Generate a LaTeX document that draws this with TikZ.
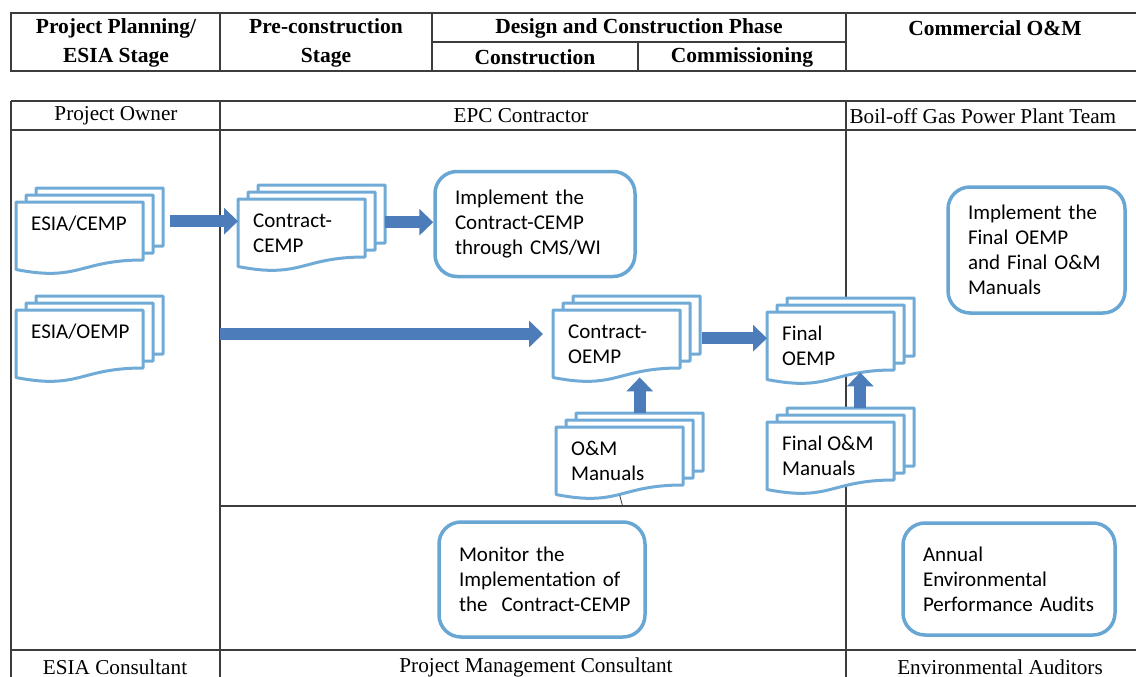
\documentclass[tikz,border=0pt]{standalone}
\usepackage{fontspec}
\setmainfont{Liberation Serif}
\newfontfamily\docfont{Carlito}
\usetikzlibrary{calc,arrows.meta}

\definecolor{docblue}{RGB}{112,170,214}
\definecolor{boxblue}{RGB}{104,166,212}
\definecolor{arrowblue}{RGB}{76,125,186}
\definecolor{gridgray}{RGB}{60,60,60}

\tikzset{
  laneline/.style={draw=gridgray, line width=1.3pt},
  headline/.style={draw=gridgray, line width=2pt},
  headtext/.style={font=\fontsize{21.5}{29}\selectfont\bfseries, align=center},
  lanetext/.style={font=\fontsize{21.2}{24}\selectfont},
  docpage/.style={draw=docblue, line width=3pt, fill=white, line join=round},
  doc/.style={inner sep=0pt, anchor=north west, font=\docfont\fontsize{21}{25}\selectfont},
  task/.style={draw=boxblue, line width=3.5pt, rounded corners=22pt, fill=white,
    inner xsep=20pt, align=left, font=\docfont\fontsize{21}{25}\selectfont},
  bigarrow/.style={draw=arrowblue, line width=12pt, -{Triangle[width=26pt,length=14pt]}},
}

% stack of three pages with a wavy bottom, front page is the node
\newcommand{\docstack}[3]{%
  \foreach \k in {2,1,0}
    \draw[docpage] ($(#2)+(10*\k,-7*\k)$) -- ++(127,0) -- ++(0,58)
      .. controls +(-63.5,0) and +(63.5,12.5) .. ++(-127,9.5) -- cycle;
  \node[doc] (#1) at (#2) {\parbox[t][72pt][t]{127pt}{\raggedright\leftskip=15pt\rule{0pt}{28pt}#3}};
}

\begin{document}
\begin{tikzpicture}[x=1pt, y=-1pt]
    \useasboundingbox (0,0) rectangle (1136,677);
    \clip (0,0) rectangle (1136,677);
    % Stage header
    \draw[headline] (11,13) rectangle (1140,71);
    \draw[headline] (220,13) -- (220,71) (432,13) -- (432,71) (846,13) -- (846,71);
    \draw[headline] (432,42) -- (846,42) (638,42) -- (638,71);
    \node[headtext] (hplan) at (116,43) {Project Planning/\\ESIA Stage};
    \node[headtext] (hpre) at (326,43) {Pre-construction\\Stage};
    \node[headtext] (hdesign) at (639,28) {Design and Construction Phase};
    \node[headtext] (hconstr) at (535,57) {Construction};
    \node[headtext] (hcomm) at (742,57) {Commissioning};
    \node[headtext] (hom) at (995,28) {Commercial O\&M};
    % Lanes
    \draw[laneline] (11,101) -- (1140,101) (11,130) -- (1140,130)
        (11,101) -- (11,680) (220,101) -- (220,680) (846,101) -- (846,680)
        (220,506) -- (1140,506) (11,650) -- (1140,650);
    \node[lanetext] (owner) at (116,116) {Project Owner};
    \node[lanetext] (epc) at (521,116) {EPC Contractor};
    \node[lanetext, anchor=west] (boil) at (846,116) {Boil-off Gas Power Plant Team};
    \node[lanetext] (esiacons) at (115,667) {ESIA Consultant};
    \node[lanetext] (pmc) at (536,667) {Project Management Consultant};
    \node[lanetext] (auditors) at (1000,667) {Environmental Auditors};
    % Documents
    \docstack{esiacemp}{16,202}{ESIA/CEMP}
    \docstack{esiaoemp}{16,310}{ESIA/OEMP}
    \docstack{ccemp}{238,199}{Contract-\\CEMP}
    \docstack{coemp}{553,310}{Contract-\\OEMP}
    \docstack{foemp}{767,312}{Final\\OEMP}
    \docstack{omman}{556,427}{O\&M\\Manuals}
    \docstack{fomman}{767,422}{Final O\&M\\Manuals}
    % Tasks
    \node[task, text width=160pt, minimum height=105pt] (implcemp) at (535,224)
        {Implement the\\Contract-CEMP\\through CMS/WI};
    \node[task, text width=137pt, minimum height=126pt] (imploemp) at (1036.5,250)
        {Implement the\\Final OEMP\\and Final O\&M\\Manuals};
    \node[task, text width=166pt, minimum height=115pt] (monitor) at (542,579.5)
        {Monitor the\\Implementation of\\\mbox{the~ Contract-CEMP}};
    \node[task, text width=172pt, minimum height=112pt] (audits) at (1009,579)
        {Annual\\Environmental\\Performance Audits};
    % Arrows
    \coordinate (a1) at ([xshift=27pt,yshift=17pt]esiacemp.east);
    \draw[bigarrow] (a1) -- (a1 -| ccemp.west);
    \coordinate (a2) at ([xshift=20pt,yshift=13pt]ccemp.east);
    \draw[bigarrow] (a2) -- (a2 -| implcemp.west);
    \coordinate (a3) at (220,334);
    \draw[bigarrow, shorten >=10pt] (a3) -- (a3 -| coemp.west);
    \coordinate (a4) at ([xshift=22pt,yshift=8pt]coemp.east);
    \draw[bigarrow] (a4) -- (a4 -| foemp.west);
    \coordinate (a5) at ([xshift=20pt,yshift=14pt]omman.north);
    \draw[bigarrow, shorten >=-5pt] (a5) -- (a5 |- coemp.south);
    \coordinate (a6) at ([xshift=29.5pt,yshift=14pt]fomman.north);
    \draw[bigarrow, shorten >=-12pt] (a6) -- (a6 |- foemp.south);
    \draw[laneline, line width=0.8pt] ([yshift=4pt]omman.south) -- ++(3,11);
\end{tikzpicture}
\end{document}
